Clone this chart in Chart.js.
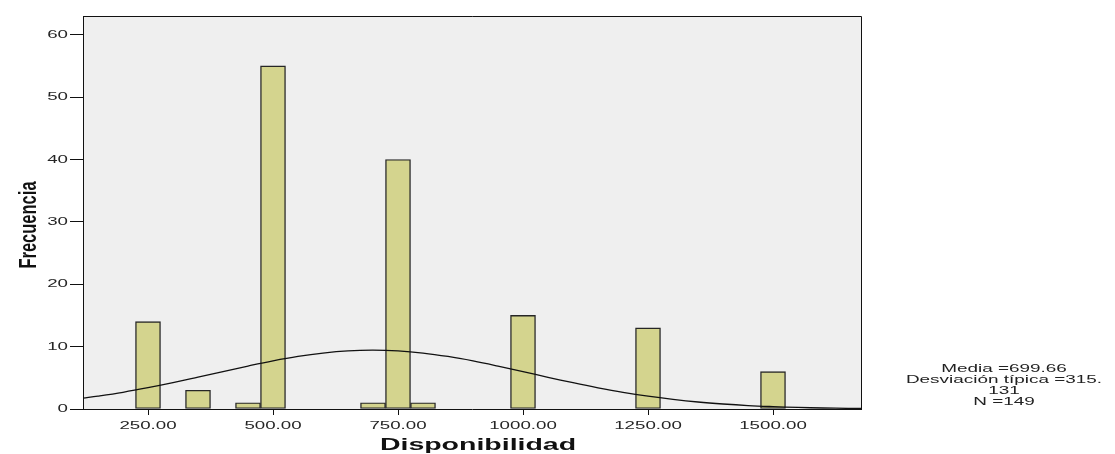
<!DOCTYPE html>
<html>
<head>
<meta charset="utf-8">
<script src="https://cdn.jsdelivr.net/npm/chart.js@4"></script>
<style>
  html, body { margin: 0; padding: 0; background: #ffffff; }
  canvas { display: block; }
</style>
</head>
<body>
<canvas id="chart" width="1115" height="454"></canvas>
<script>
// Histogram bins (centre of each 50-unit bin) and their counts
const binCenters  = [250, 350, 450, 500, 700, 750, 800, 1000, 1250, 1500];
const frequencies = [14, 3, 1, 55, 1, 40, 1, 15, 13, 6];

// Fitted normal curve, sampled along the axis
const curveX = [120, 150, 200, 250, 300, 350, 400, 450, 500, 550, 600, 650, 700, 750, 800,
                850, 900, 950, 1000, 1050, 1100, 1150, 1200, 1250, 1300, 1350, 1400, 1450,
                1500, 1550, 1600, 1650, 1676];
const curveY = [1.74, 2.06, 2.68, 3.41, 4.22, 5.10, 6.00, 6.89, 7.72, 8.43, 8.97, 9.32, 9.43, 9.31, 8.97,
                8.42, 7.71, 6.88, 5.99, 5.08, 4.21, 3.40, 2.67, 2.05, 1.54, 1.12, 0.80, 0.55,
                0.38, 0.25, 0.16, 0.10, 0.08];

// Axis ticks
const xTickValues = [250, 500, 750, 1000, 1250, 1500];
const xTickLabels = ['250.00', '500.00', '750.00', '1000.00', '1250.00', '1500.00'];
const yTickValues = [0, 10, 20, 30, 40, 50, 60];
const yTickLabels = ['0', '10', '20', '30', '40', '50', '60'];

// Titles and summary statistics
const xTitle = 'Disponibilidad';
const yTitle = 'Frecuencia';
const statsLines = ['Media =699.66', 'Desviación típica =315.', '131', 'N =149'];

const FONT = '"Liberation Sans", Arial, sans-serif';

// Text drawn with a horizontal stretch factor
function wideText(ctx, text, x, y, sx, align) {
  ctx.save();
  ctx.translate(x, y);
  ctx.scale(sx, 1);
  ctx.textAlign = align;
  ctx.fillText(text, 0, 0);
  ctx.restore();
}

const framePlugin = {
  id: 'frame',
  beforeDraw(chart) {
    const { ctx, chartArea: a } = chart;
    ctx.save();
    ctx.fillStyle = '#efefef';
    ctx.fillRect(a.left, a.top, a.right - a.left, a.bottom - a.top);
    ctx.restore();
  },
  afterDraw(chart) {
    const { ctx, chartArea: a, scales } = chart;
    ctx.save();
    // top and right edges of the plot frame
    ctx.strokeStyle = '#111111';
    ctx.lineWidth = 1;
    ctx.beginPath();
    ctx.moveTo(a.left, a.top + 0.5);
    ctx.lineTo(a.right + 0.5, a.top + 0.5);
    ctx.lineTo(a.right + 0.5, a.bottom);
    ctx.stroke();

    // tick labels
    ctx.fillStyle = '#262626';
    ctx.font = '11px ' + FONT;
    ctx.textBaseline = 'middle';
    yTickValues.forEach((v, i) => {
      wideText(ctx, yTickLabels[i], 68, scales.y.getPixelForValue(v), 1.7, 'right');
    });
    xTickValues.forEach((v, i) => {
      wideText(ctx, xTickLabels[i], scales.x.getPixelForValue(v), 426, 1.7, 'center');
    });

    // axis titles
    ctx.fillStyle = '#111111';
    ctx.font = 'bold 16px ' + FONT;
    wideText(ctx, xTitle, 478, 446, 1.78, 'center');

    ctx.save();
    ctx.translate(29, 225);
    ctx.rotate(-Math.PI / 2);
    ctx.scale(1, 1.5);
    ctx.textAlign = 'center';
    ctx.textBaseline = 'middle';
    ctx.font = 'bold 16.5px ' + FONT;
    ctx.fillText(yTitle, 0, 0);
    ctx.restore();

    // summary statistics
    ctx.fillStyle = '#222222';
    ctx.font = '11px ' + FONT;
    const lineY = [369, 380, 391, 402];
    statsLines.forEach((t, i) => wideText(ctx, t, 1004, lineY[i], 1.72, 'center'));
    ctx.restore();
  }
};

new Chart(document.getElementById('chart'), {
  data: {
    datasets: [
      {
        type: 'bar',
        order: 2,
        data: binCenters.map((c, i) => ({ x: c, y: frequencies[i] })),
        backgroundColor: 'rgb(212, 212, 142)',
        borderColor: '#262626',
        borderWidth: 1.4,
        borderSkipped: false,
        barThickness: 25
      },
      {
        type: 'line',
        order: 1,
        data: curveX.map((x, i) => ({ x: x, y: curveY[i] })),
        borderColor: '#111111',
        borderWidth: 1.3,
        pointRadius: 0,
        tension: 0.4,
        fill: false
      }
    ]
  },
  options: {
    responsive: false,
    animation: false,
    events: [],
    layout: { padding: { top: 16, right: 254, left: 0, bottom: 0 } },
    plugins: { legend: { display: false }, tooltip: { enabled: false } },
    scales: {
      x: {
        type: 'linear',
        min: 120,
        max: 1676,
        offset: false,
        afterBuildTicks(s) { s.ticks = xTickValues.map(v => ({ value: v })); },
        afterFit(s) { s.height = 45; },
        ticks: { display: false },
        grid: { offset: false, drawOnChartArea: false, drawTicks: true, tickLength: 6, color: '#111111', lineWidth: 1 },
        border: { display: true, color: '#111111', width: 1 }
      },
      y: {
        type: 'linear',
        min: 0,
        max: 63,
        afterBuildTicks(s) { s.ticks = yTickValues.map(v => ({ value: v })); },
        afterFit(s) { s.width = 83; },
        ticks: { display: false },
        grid: { offset: false, drawOnChartArea: false, drawTicks: true, tickLength: 13, color: '#111111', lineWidth: 1 },
        border: { display: true, color: '#111111', width: 1 }
      }
    }
  },
  plugins: [framePlugin]
});
</script>
</body>
</html>
